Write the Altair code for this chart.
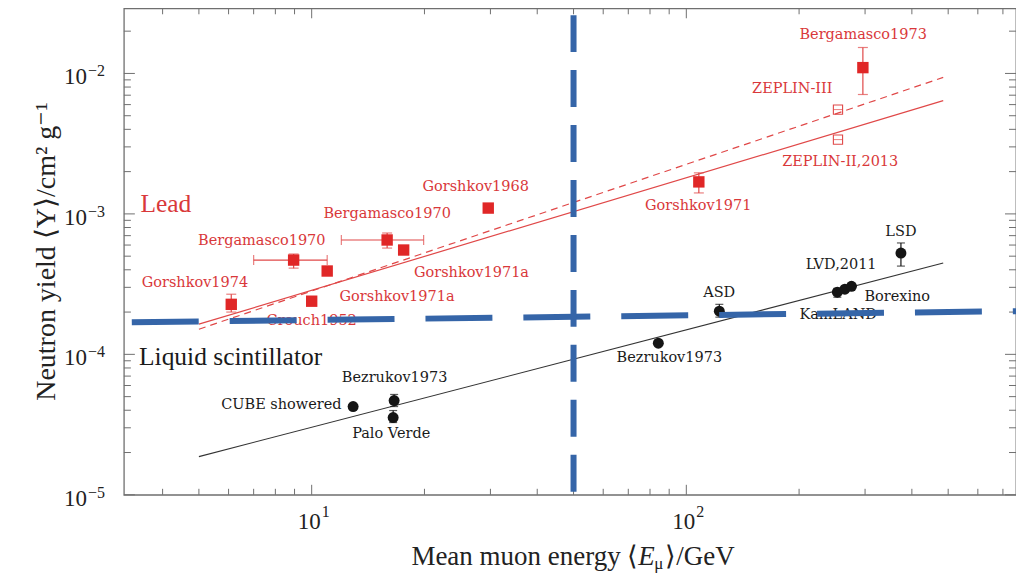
import altair as alt
import pandas as pd

# ---------------- data ----------------
# Lead (red filled squares)
lead_names = ["Gorshkov1974", "Bergamasco1970", "Crouch1952", "Gorshkov1971a", "Bergamasco1970",
              "Gorshkov1971a", "Gorshkov1968", "Gorshkov1971", "Bergamasco1973"]
lead_E = [6.1, 8.95, 10.0, 11.0, 15.9, 17.6, 29.6, 108, 296]
lead_Y = [2.27e-4, 4.69e-4, 2.39e-4, 3.92e-4, 6.52e-4, 5.53e-4, 1.10e-3, 1.69e-3, 1.10e-2]

# vertical error bars (lead)
lead_err_E = [6.1, 8.95, 15.9, 108, 296]
lead_err_lo = [2.0e-4, 4.11e-4, 5.71e-4, 1.41e-3, 7.08e-3]
lead_err_hi = [2.68e-4, 5.18e-4, 7.31e-4, 1.96e-3, 1.53e-2]
# horizontal error bars (lead)
lead_xerr_Y = [4.69e-4, 6.52e-4]
lead_xerr_lo = [7.0, 12.0]
lead_xerr_hi = [11.0, 19.9]

# ZEPLIN (open squares)
zep_E = [254, 254]
zep_Y = [5.53e-3, 3.38e-3]

# Liquid scintillator (black circles)
ls_names = ["CUBE showered", "Bezrukov1973", "Palo Verde", "Bezrukov1973", "ASD",
            "LVD,2011", "KamLAND", "Borexino", "LSD"]
ls_E = [12.9, 16.6, 16.5, 84.2, 122.5, 253, 265, 276, 374]
ls_Y = [4.25e-5, 4.69e-5, 3.55e-5, 1.20e-4, 2.03e-4, 2.77e-4, 2.91e-4, 3.05e-4, 5.26e-4]
ls_err_E = [16.6, 16.5, 122.5, 253, 374]
ls_err_lo = [4.25e-5, 3.27e-5, 1.84e-4, 2.55e-4, 4.25e-4]
ls_err_hi = [5.18e-5, 3.98e-5, 2.27e-4, 2.95e-4, 6.21e-4]

# fit lines
lead_fit_E = [5.0, 485]
lead_fit_Y = [1.64e-4, 6.41e-3]
lead_fit2_Y = [1.51e-4, 9.37e-3]
ls_fit_E = [5.0, 485]
ls_fit_Y = [1.87e-5, 4.47e-4]

# blue dashed guide lines
blue_h_E = [3.31, 758.6]
blue_h_Y = [1.69e-4, 2.03e-4]
blue_v_E = [50, 50]
blue_v_Y = [0.026, 1e-5]

# text labels
red_lab = ["Bergamasco1973", "ZEPLIN-III", "ZEPLIN-II,2013", "Gorshkov1971", "Gorshkov1968",
           "Bergamasco1970", "Bergamasco1970", "Gorshkov1974", "Gorshkov1971a", "Gorshkov1971a",
           "Crouch1952"]
red_lab_E = [296.5, 191.8, 257.5, 107.6, 27.4, 15.9, 7.36, 4.88, 26.7, 16.9, 10.0]
red_lab_Y = [1.866e-2, 7.69e-3, 2.35e-3, 1.14e-3, 1.56e-3, 1.0e-3, 6.41e-4, 3.21e-4, 3.79e-4, 2.55e-4, 1.72e-4]

blk_lab = ["CUBE showered", "Bezrukov1973", "Palo Verde", "Bezrukov1973", "ASD",
           "LVD,2011", "Borexino", "KamLAND", "LSD"]
blk_lab_E = [8.30, 16.65, 16.3, 90.1, 122.4, 259, 365.6, 254.3, 374]
blk_lab_Y = [4.33e-5, 6.74e-5, 2.73e-5, 9.36e-5, 2.73e-4, 4.32e-4, 2.55e-4, 1.90e-4, 7.43e-4]

group_lab = ["Lead", "Liquid scintillator"]
group_lab_E = [3.49, 3.46]
group_lab_Y = [1.18e-3, 9.52e-5]
group_lab_col = ["#d9383a", "#1a1a1a"]

# axis ticks
x_major = [10, 100]
x_major_exp = ["1", "2"]
x_minor = [4, 5, 6, 7, 8, 9, 20, 30, 40, 50, 60, 70, 80, 90, 200, 300, 400, 500, 600, 700]
y_major = [1e-5, 1e-4, 1e-3, 1e-2]
y_major_exp = ["\u22125", "\u22124", "\u22123", "\u22122"]
y_minor = [m * 10.0 ** e for e in (-5, -4, -3) for m in range(2, 10)] + [0.02]

# ---------------- styling ----------------
W, H = 893, 487
RED = "#e02727"
RED_T = "#d9383a"
RED_L = "#e04848"
BLK = "#151515"
BLUE = "#3565a8"
SERIF = "Liberation Serif"
LAB = "DejaVu Serif"

xs = alt.Scale(type="log", domain=[3.153, 758.6], nice=False)
ys = alt.Scale(type="log", domain=[1e-5, 0.0291], nice=False)


def X(f="E"):
    return alt.X(f"{f}:Q", scale=xs, axis=None)


def Y(f="Y"):
    return alt.Y(f"{f}:Q", scale=ys, axis=None)


lead = pd.DataFrame({"E": lead_E, "Y": lead_Y, "name": lead_names})
lead_err = pd.DataFrame({"E": lead_err_E, "lo": lead_err_lo, "hi": lead_err_hi})
lead_xerr = pd.DataFrame({"Y": lead_xerr_Y, "lo": lead_xerr_lo, "hi": lead_xerr_hi})
zep = pd.DataFrame({"E": zep_E, "Y": zep_Y})
ls = pd.DataFrame({"E": ls_E, "Y": ls_Y, "name": ls_names})
ls_err = pd.DataFrame({"E": ls_err_E, "lo": ls_err_lo, "hi": ls_err_hi})
fit1 = pd.DataFrame({"E": lead_fit_E, "Y": lead_fit_Y})
fit2 = pd.DataFrame({"E": lead_fit_E, "Y": lead_fit2_Y})
fit3 = pd.DataFrame({"E": ls_fit_E, "Y": ls_fit_Y})
bh = pd.DataFrame({"E": blue_h_E, "Y": blue_h_Y, "o": [0, 1]})
bv = pd.DataFrame({"E": blue_v_E, "Y": blue_v_Y, "o": [0, 1]})
rlab = pd.DataFrame({"E": red_lab_E, "Y": red_lab_Y, "t": red_lab})
blab = pd.DataFrame({"E": blk_lab_E, "Y": blk_lab_Y, "t": blk_lab})
glab = pd.DataFrame({"E": group_lab_E, "Y": group_lab_Y, "t": group_lab, "c": group_lab_col})
xmaj = pd.DataFrame({"E": x_major, "exp": x_major_exp, "b": ["10"] * len(x_major)})
xmin = pd.DataFrame({"E": x_minor})
ymaj = pd.DataFrame({"Y": y_major, "exp": y_major_exp, "b": ["10"] * len(y_major)})
ymin = pd.DataFrame({"Y": y_minor})
one = pd.DataFrame({"a": [0]})

layers = []

# ticks (inward, mirrored)
TK = "#6f6f6f"
for df, L in ((xmaj, 10), (xmin, 6)):
    layers.append(alt.Chart(df).mark_rule(color=TK, strokeWidth=1).encode(
        x=X(), y=alt.value(H), y2=alt.value(H - L)))
    layers.append(alt.Chart(df).mark_rule(color=TK, strokeWidth=1).encode(
        x=X(), y=alt.value(0), y2=alt.value(L)))
for df, L in ((ymaj, 11), (ymin, 7)):
    layers.append(alt.Chart(df).mark_rule(color=TK, strokeWidth=1).encode(
        y=Y(), x=alt.value(0), x2=alt.value(L)))
    layers.append(alt.Chart(df).mark_rule(color=TK, strokeWidth=1).encode(
        y=Y(), x=alt.value(W), x2=alt.value(W - L)))

# tick labels
layers.append(alt.Chart(xmaj).mark_text(font=SERIF, fontSize=23, align="right", baseline="middle",
                                        dx=9, color="#222").encode(
    x=X(), y=alt.value(H + 27), text="b:N"))
layers.append(alt.Chart(xmaj).mark_text(font=SERIF, fontSize=16, align="left", baseline="middle",
                                        dx=10, color="#222").encode(
    x=X(), y=alt.value(H + 17), text="exp:N"))
layers.append(alt.Chart(ymaj).mark_text(font=SERIF, fontSize=23, align="right", baseline="middle",
                                        dy=4, color="#222").encode(
    y=Y(), x=alt.value(-37), text="b:N"))
layers.append(alt.Chart(ymaj).mark_text(font=SERIF, fontSize=16, align="left", baseline="middle",
                                        dy=-2, color="#222").encode(
    y=Y(), x=alt.value(-36), text="exp:N"))

# axis titles
layers.append(alt.Chart(one).mark_text(font=SERIF, fontSize=28, angle=270, align="center",
                                       baseline="middle", color="#222",
                                       text="Neutron yield \u27e8Y\u27e9/cm\u00b2 g\u207b\u00b9").encode(
    x=alt.value(-77), y=alt.value(H / 2)))
layers.append(alt.Chart(one).mark_text(font=SERIF, fontSize=27, align="right", baseline="alphabetic",
                                       color="#222", text="Mean muon energy \u27e8").encode(
    x=alt.value(515), y=alt.value(H + 70)))
layers.append(alt.Chart(one).mark_text(font=SERIF, fontSize=27, fontStyle="italic", align="left",
                                       baseline="alphabetic", color="#222", text="E").encode(
    x=alt.value(515), y=alt.value(H + 70)))
layers.append(alt.Chart(one).mark_text(font=SERIF, fontSize=17, align="left",
                                       baseline="alphabetic", color="#222", text="\u03bc").encode(
    x=alt.value(531), y=alt.value(H + 74)))
layers.append(alt.Chart(one).mark_text(font=SERIF, fontSize=27, align="left",
                                       baseline="alphabetic", color="#222", text="\u27e9/GeV").encode(
    x=alt.value(542), y=alt.value(H + 70)))

# fit lines
layers.append(alt.Chart(fit1).mark_line(color=RED_L, strokeWidth=1.2).encode(x=X(), y=Y()))
layers.append(alt.Chart(fit2).mark_line(color=RED_L, strokeWidth=1.2, strokeDash=[7, 5]).encode(x=X(), y=Y()))
layers.append(alt.Chart(fit3).mark_line(color="#333333", strokeWidth=1.1).encode(x=X(), y=Y()))

# error bars
layers.append(alt.Chart(lead_err).mark_rule(color=RED_L, strokeWidth=1.2).encode(
    x=X(), y=Y("lo"), y2=alt.Y2("hi:Q")))
for f in ("lo", "hi"):
    layers.append(alt.Chart(lead_err).mark_tick(color=RED_L, orient="horizontal", size=10, thickness=1.2).encode(
        x=X(), y=Y(f)))
layers.append(alt.Chart(lead_xerr).mark_rule(color=RED_L, strokeWidth=1.2).encode(
    y=Y(), x=X("lo"), x2=alt.X2("hi:Q")))
for f in ("lo", "hi"):
    layers.append(alt.Chart(lead_xerr).mark_tick(color=RED_L, orient="vertical", size=10, thickness=1.2).encode(
        y=Y(), x=X(f)))
layers.append(alt.Chart(ls_err).mark_rule(color=BLK, strokeWidth=1.2).encode(
    x=X(), y=Y("lo"), y2=alt.Y2("hi:Q")))
for f in ("lo", "hi"):
    layers.append(alt.Chart(ls_err).mark_tick(color=BLK, orient="horizontal", size=8, thickness=1.2).encode(
        x=X(), y=Y(f)))

# points
layers.append(alt.Chart(lead).mark_point(shape="square", filled=True, size=130, color=RED, opacity=1).encode(
    x=X(), y=Y()))
layers.append(alt.Chart(zep).mark_point(shape="square", filled=False, size=85, color=RED_L, strokeWidth=1.1,
                                        opacity=1).encode(x=X(), y=Y()))
layers.append(alt.Chart(zep).mark_tick(color=RED_L, orient="horizontal", size=9, thickness=1).encode(
    x=X(), y=Y()))
layers.append(alt.Chart(ls).mark_point(shape="circle", filled=True, size=120, color=BLK, opacity=1).encode(
    x=X(), y=Y()))

# labels
layers.append(alt.Chart(rlab).mark_text(font=LAB, fontSize=14.5, color=RED_T, align="center",
                                        baseline="middle").encode(x=X(), y=Y(), text="t:N"))
layers.append(alt.Chart(blab).mark_text(font=LAB, fontSize=14.5, color="#1a1a1a", align="center",
                                        baseline="middle").encode(x=X(), y=Y(), text="t:N"))
layers.append(alt.Chart(glab).mark_text(font=SERIF, fontSize=25.5, align="left", baseline="middle").encode(
    x=X(), y=Y(), text="t:N", color=alt.Color("c:N", scale=None)))

# blue dashed guides (on top)
layers.append(alt.Chart(bh).mark_line(color=BLUE, strokeWidth=6, strokeDash=[67, 31]).encode(
    x=X(), y=Y(), order="o:Q"))
layers.append(alt.Chart(bv).mark_line(color=BLUE, strokeWidth=6, strokeDash=[37, 18]).encode(
    x=X(), y=Y(), order="o:Q"))

chart = alt.layer(*layers).properties(
    width=W, height=H,
    autosize=alt.AutoSizeParams(type="none"),
    padding={"left": 116, "top": 0, "right": 0, "bottom": 85},
).configure_view(stroke="#6f6f6f", strokeWidth=1.3)

chart.save("out.html", embed_options={"renderer": "svg", "actions": False})
